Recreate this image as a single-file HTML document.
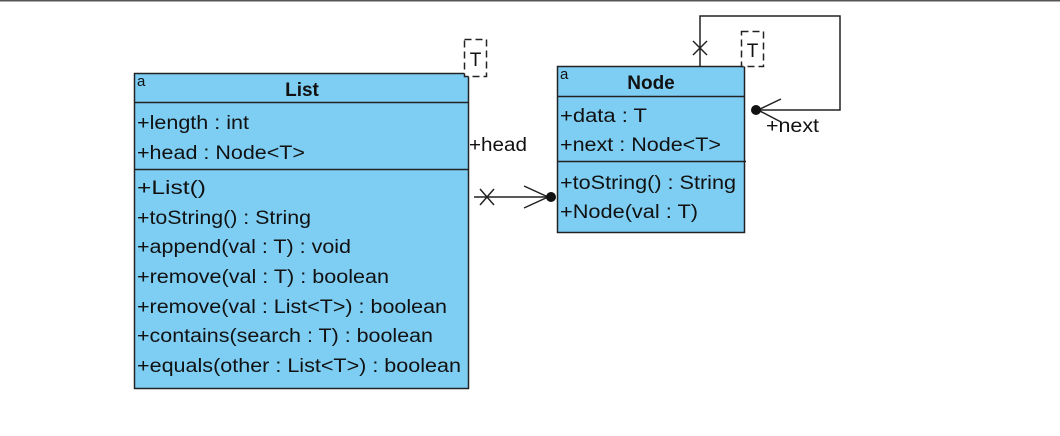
<!DOCTYPE html>
<html><head><style>
body{margin:0;background:#fff;}
svg{display:block;}
text{font-family:"Liberation Sans",sans-serif;font-size:19px;fill:#111;}
</style></head><body>
<svg width="1060" height="436" viewBox="0 0 1060 436" xmlns="http://www.w3.org/2000/svg">
<line x1="0" y1="0.5" x2="1060" y2="0.5" stroke="#555" stroke-width="2"/>
<!-- List -->
<rect x="134.5" y="73.5" width="334" height="315" fill="#7ecef4" stroke="#222" stroke-width="1.5"/>
<line x1="134" y1="102.5" x2="469" y2="102.5" stroke="#222" stroke-width="1.5"/>
<line x1="134" y1="169.5" x2="469" y2="169.5" stroke="#222" stroke-width="1.5"/>
<text x="137" y="86" style="font-size:15px">a</text>
<text x="302" y="96" text-anchor="middle" style="font-weight:bold;font-size:19px">List</text>
<text x="137" y="129" textLength="112" lengthAdjust="spacingAndGlyphs">+length : int</text>
<text x="137" y="159" textLength="168" lengthAdjust="spacingAndGlyphs">+head : Node&lt;T&gt;</text>
<text x="137" y="194" textLength="69" lengthAdjust="spacingAndGlyphs">+List()</text>
<text x="137" y="224" textLength="174" lengthAdjust="spacingAndGlyphs">+toString() : String</text>
<text x="137" y="253" textLength="214" lengthAdjust="spacingAndGlyphs">+append(val : T) : void</text>
<text x="137" y="283" textLength="252" lengthAdjust="spacingAndGlyphs">+remove(val : T) : boolean</text>
<text x="137" y="313" textLength="310" lengthAdjust="spacingAndGlyphs">+remove(val : List&lt;T&gt;) : boolean</text>
<text x="137" y="342" textLength="296" lengthAdjust="spacingAndGlyphs">+contains(search : T) : boolean</text>
<text x="137" y="372" textLength="324" lengthAdjust="spacingAndGlyphs">+equals(other : List&lt;T&gt;) : boolean</text>
<rect x="464.5" y="39.5" width="22" height="37" fill="#fff" stroke="#222" stroke-width="1.5" stroke-dasharray="7,4"/>
<text x="475.5" y="66" text-anchor="middle">T</text>
<!-- Node -->
<rect x="557.5" y="66.5" width="187" height="166" fill="#7ecef4" stroke="#222" stroke-width="1.5"/>
<line x1="557" y1="96.5" x2="745" y2="96.5" stroke="#222" stroke-width="1.5"/>
<line x1="557" y1="161.5" x2="746" y2="161.5" stroke="#222" stroke-width="1.5"/>
<text x="560" y="79" style="font-size:15px">a</text>
<text x="651" y="89" text-anchor="middle" style="font-weight:bold;font-size:19px">Node</text>
<text x="560" y="122" textLength="87" lengthAdjust="spacingAndGlyphs">+data : T</text>
<text x="560" y="151" textLength="161" lengthAdjust="spacingAndGlyphs">+next : Node&lt;T&gt;</text>
<text x="560" y="189" textLength="176" lengthAdjust="spacingAndGlyphs">+toString() : String</text>
<text x="560" y="218" textLength="138" lengthAdjust="spacingAndGlyphs">+Node(val : T)</text>
<rect x="741.5" y="31.5" width="22" height="35" fill="#fff" stroke="#222" stroke-width="1.5" stroke-dasharray="7,4"/>
<text x="752.5" y="57" text-anchor="middle">T</text>
<!-- head connector -->
<line x1="474" y1="197" x2="552" y2="197" stroke="#222" stroke-width="1.5"/>
<line x1="480" y1="189" x2="494" y2="205" stroke="#222" stroke-width="1.5"/>
<line x1="480" y1="205" x2="494" y2="189" stroke="#222" stroke-width="1.5"/>
<polyline points="524,186 548,197 524,208" fill="none" stroke="#222" stroke-width="1.5"/>
<circle cx="551" cy="197" r="5" fill="#111"/>
<text x="469" y="151" textLength="58" lengthAdjust="spacingAndGlyphs">+head</text>
<!-- self loop -->
<polyline points="700,66 700,16 840,16 840,110 760,110" fill="none" stroke="#222" stroke-width="1.5"/>
<line x1="693" y1="41" x2="707" y2="55" stroke="#222" stroke-width="1.5"/>
<line x1="693" y1="55" x2="707" y2="41" stroke="#222" stroke-width="1.5"/>
<polyline points="781,99 758,110 781,122" fill="none" stroke="#222" stroke-width="1.5"/>
<circle cx="756" cy="110" r="5" fill="#111"/>
<text x="766" y="132" textLength="53" lengthAdjust="spacingAndGlyphs">+next</text>
</svg>
</body></html>
